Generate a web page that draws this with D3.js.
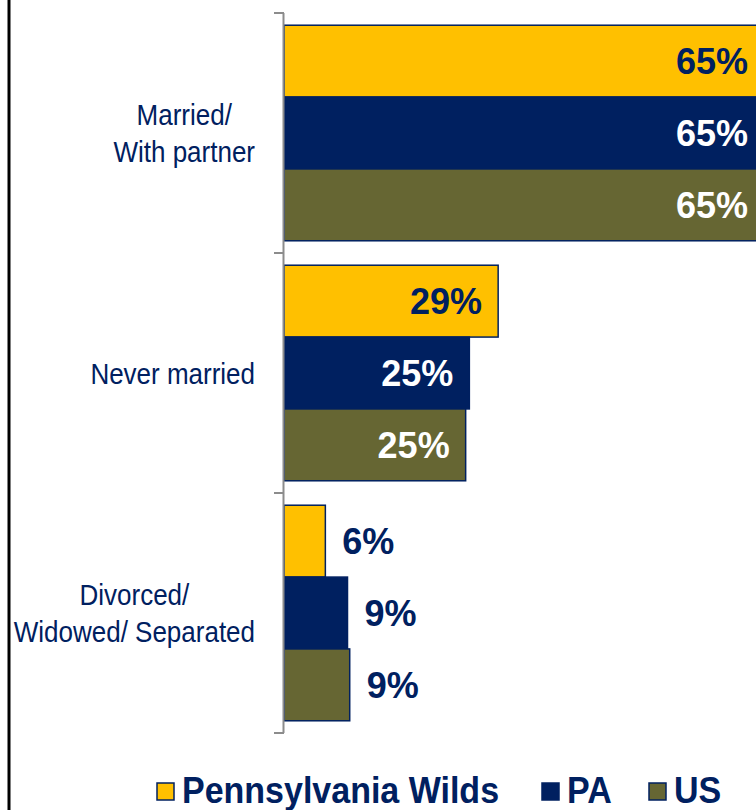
<!DOCTYPE html>
<html>
<head>
<meta charset="utf-8">
<script src="https://cdn.jsdelivr.net/npm/d3@7"></script>
<style>
  body { margin: 0; background: #fff; }
  svg { display: block; font-family: "Liberation Sans", Arial, sans-serif; }
</style>
</head>
<body>
<div id="chart"></div>
<script>
// data
const categories = ["Married/\nWith partner", "Never married", "Divorced/\nWidowed/ Separated"];
const seriesNames = ["Pennsylvania Wilds", "PA", "US"];
const pwValues = [65, 29, 5.6];
const paValues = [65, 25.1, 8.6];
const usValues = [65, 24.6, 8.9];

const seriesValues = [pwValues, paValues, usValues];
const colors = ["#FFC000", "#002060", "#666633"];
const labelInside = ["#002060", "#ffffff", "#ffffff"];
const navy = "#002060";

const width = 756, height = 810;

const svg = d3.select("#chart").append("svg")
    .attr("width", width)
    .attr("height", height);

// left frame line
svg.append("line")
    .attr("x1", 9).attr("x2", 9)
    .attr("y1", 0).attr("y2", height)
    .attr("stroke", "#000").attr("stroke-width", 3);

const x = d3.scaleLinear().domain([0, 65]).range([284, 764]);

const y0 = d3.scaleBand().domain(categories).range([13, 733]).padding(0);
const y1 = d3.scaleBand().domain(seriesNames).range([0, y0.bandwidth()]).paddingOuter(0.17).paddingInner(0);

// bars
const rows = [];
categories.forEach((c, ci) => {
    seriesNames.forEach((s, si) => {
        rows.push({ cat: c, series: s, si: si, value: seriesValues[si][ci] });
    });
});

const bar = svg.append("g").selectAll("g")
    .data(rows)
    .enter().append("g");

bar.append("rect")
    .attr("x", x(0))
    .attr("y", d => y0(d.cat) + y1(d.series))
    .attr("width", d => x(d.value) - x(0))
    .attr("height", y1.bandwidth())
    .attr("fill", d => colors[d.si])
    .attr("stroke", navy)
    .attr("stroke-width", 1.5);

bar.append("text")
    .attr("x", d => d.value > 15 ? x(d.value) - 16 : x(d.value) + 17)
    .attr("y", d => y0(d.cat) + y1(d.series) + y1.bandwidth() / 2 + 13)
    .attr("text-anchor", d => d.value > 15 ? "end" : "start")
    .attr("font-size", 36)
    .attr("font-weight", "bold")
    .attr("fill", d => d.value > 15 ? labelInside[d.si] : navy)
    .text(d => Math.round(d.value) + "%");

// category axis
const axis = svg.append("g");
axis.append("line")
    .attr("x1", 283.5).attr("x2", 283.5)
    .attr("y1", 13).attr("y2", 733)
    .attr("stroke", "#8c8c8c").attr("stroke-width", 2);

const ticks = categories.map(c => y0(c)).concat([y0.range()[1]]);
axis.selectAll(".tick")
    .data(ticks)
    .enter().append("line")
    .attr("x1", 274).attr("x2", 284)
    .attr("y1", d => d).attr("y2", d => d)
    .attr("stroke", "#8c8c8c").attr("stroke-width", 2);

// category labels, block right edge at 255, lines centered
const stretch = 1.17;
const lineGap = 37;
categories.forEach(c => {
    const lines = c.split("\n");
    const cy = y0(c) + y0.bandwidth() / 2;
    const g = svg.append("g");
    const texts = lines.map((t, i) => {
        const base = cy + (i - (lines.length - 1) / 2) * lineGap + 10.8;
        return g.append("text")
            .attr("transform", `translate(0,${base}) scale(1,${stretch})`)
            .attr("font-size", 26)
            .attr("fill", navy)
            .attr("text-anchor", "middle")
            .text(t);
    });
    const maxW = d3.max(texts, t => t.node().getComputedTextLength());
    const cx = 255 - maxW / 2;
    texts.forEach((t, i) => {
        const base = cy + (i - (lines.length - 1) / 2) * lineGap + 10.8;
        t.attr("transform", `translate(${cx},${base}) scale(1,${stretch})`);
    });
});

// legend
const legendX = [157, 542, 649];
const legend = svg.append("g").selectAll("g")
    .data(seriesNames)
    .enter().append("g")
    .attr("transform", (d, i) => `translate(${legendX[i]},783)`);

legend.append("rect")
    .attr("width", 17).attr("height", 17)
    .attr("fill", (d, i) => colors[i])
    .attr("stroke", navy).attr("stroke-width", 1.5);

legend.append("text")
    .attr("transform", "translate(25,20) scale(1,1.08)")
    .attr("font-size", 34)
    .attr("font-weight", "bold")
    .attr("fill", navy)
    .text(d => d);
</script>
</body>
</html>
